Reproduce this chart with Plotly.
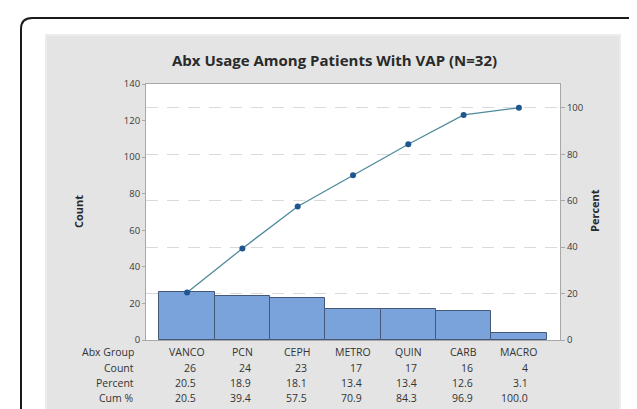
import plotly.graph_objects as go

# ---- data ----
categories = ["VANCO", "PCN", "CEPH", "METRO", "QUIN", "CARB", "MACRO"]
counts = [26, 24, 23, 17, 17, 16, 4]
percents = [20.5, 18.9, 18.1, 13.4, 13.4, 12.6, 3.1]
cum_percents = [20.5, 39.4, 57.5, 70.9, 84.3, 96.9, 100.0]
count_ticks = [0, 20, 40, 60, 80, 100, 120, 140]
percent_ticks = [0, 20, 40, 60, 80, 100]
row_labels = ["Abx Group", "Count", "Percent", "Cum %"]
title_text = "Abx Usage Among Patients With VAP (N=32)"

# ---- layout geometry (pixels) ----
W, H = 637, 409
L, R, T, B = 138, 552, 76, 332
PW, PH = R - L, B - T


def px(x):
    return (x - L) / PW


def py(y):
    return (B - y) / PH


total = sum(counts)
y_max = count_ticks[-1]
y2_max = y_max * 100.0 / total

FONT = "Open Sans"
TXT = "#333333"

fig = go.Figure()
fig.add_trace(go.Bar(
    x=categories, y=counts, width=1.0,
    marker=dict(color="#7aa3dc", line=dict(color="#44597a", width=1)),
    hoverinfo="skip", showlegend=False,
))
fig.add_trace(go.Scatter(
    x=categories, y=cum_percents, yaxis="y2", mode="lines+markers",
    line=dict(color="#4f8a9c", width=1.3),
    marker=dict(color="#1f5590", size=6),
    showlegend=False,
))

shapes = []
# gray panel
shapes.append(dict(type="rect", xref="paper", yref="paper", layer="below",
                   x0=px(38), x1=px(612), y0=py(407), y1=py(27),
                   fillcolor="#e4e4e4", line=dict(color="#ececec", width=2)))
# white plot area
shapes.append(dict(type="rect", xref="paper", yref="paper", layer="below",
                   x0=0, x1=1, y0=0, y1=1, fillcolor="white",
                   line=dict(width=0)))
# rounded outer border (open at bottom)
bl, br, bt, bb, r = 13, 635, 10, 420, 11
path = (f"M {px(bl)},{py(bb)} L {px(bl)},{py(bt + r)} "
        f"Q {px(bl)},{py(bt)} {px(bl + r)},{py(bt)} "
        f"L {px(br - r)},{py(bt)} Q {px(br)},{py(bt)} {px(br)},{py(bt + r)} "
        f"L {px(br)},{py(bb)}")
shapes.append(dict(type="path", xref="paper", yref="paper", path=path,
                   line=dict(color="#1a1a1a", width=2)))

annotations = []
# title
annotations.append(dict(text="<b>" + title_text + "</b>", xref="paper",
                        yref="paper", x=px(326), y=py(52), xanchor="center",
                        yanchor="middle", showarrow=False,
                        font=dict(family=FONT, size=15, color="#2a2a2a")))
# axis titles
annotations.append(dict(text="<b>Count</b>", xref="paper", yref="paper",
                        x=px(70), y=py(204), textangle=-90, showarrow=False,
                        xanchor="center", yanchor="middle",
                        font=dict(family=FONT, size=11, color="#2a2a2a")))
annotations.append(dict(text="<b>Percent</b>", xref="paper", yref="paper",
                        x=px(586), y=py(203), textangle=-90, showarrow=False,
                        xanchor="center", yanchor="middle",
                        font=dict(family=FONT, size=11, color="#2a2a2a")))

row_y = [344, 360, 375, 390]
for lab, ry in zip(row_labels, row_y):
    annotations.append(dict(text=lab, xref="paper", yref="paper",
                            x=px(128), y=py(ry), xanchor="right",
                            yanchor="middle", showarrow=False,
                            font=dict(family=FONT, size=10.5, color=TXT)))

rows = [
    [str(c) for c in counts],
    [f"{p:.1f}" for p in percents],
    [f"{p:.1f}" for p in cum_percents],
]
for i, cat in enumerate(categories):
    annotations.append(dict(text=cat, xref="x", yref="paper", x=cat,
                            y=py(row_y[0]), xanchor="center",
                            yanchor="middle", showarrow=False,
                            font=dict(family=FONT, size=10.5, color=TXT)))
    for vals, ry in zip(rows, row_y[1:]):
        annotations.append(dict(text=vals[i], xref="x", yref="paper", x=cat,
                                y=py(ry), xanchor="right", xshift=11,
                                yanchor="middle", showarrow=False,
                                font=dict(family=FONT, size=10.5, color=TXT)))

pad = 0.243
fig.update_layout(
    width=W, height=H,
    margin=dict(l=L, r=W - R, t=T, b=H - B, pad=0),
    paper_bgcolor="white", plot_bgcolor="white",
    bargap=0,
    xaxis=dict(range=[-0.5 - pad, len(categories) - 0.5 + pad],
               showticklabels=False, ticks="", showgrid=False,
               showline=True, linecolor="#a8a8a8", linewidth=1, mirror=True,
               zeroline=False, fixedrange=True),
    yaxis=dict(range=[0, y_max], tickvals=count_ticks, ticks="outside",
               ticklen=3, tickcolor="#a8a8a8", showgrid=False,
               showline=True, linecolor="#a8a8a8", linewidth=1,
               zeroline=False,
               tickfont=dict(family=FONT, size=9.5, color="#3a3a3a")),
    yaxis2=dict(range=[0, y2_max], tickvals=percent_ticks, overlaying="y",
                side="right", ticks="outside", ticklen=4,
                tickcolor="#a8a8a8", showline=True, linecolor="#a8a8a8",
                linewidth=1, showgrid=True, gridcolor="#dadada",
                griddash="12px,9px", gridwidth=1, zeroline=False,
                tickfont=dict(family=FONT, size=9.5, color="#3a3a3a")),
    shapes=shapes,
    annotations=annotations,
)

fig.write_html("out.html")
